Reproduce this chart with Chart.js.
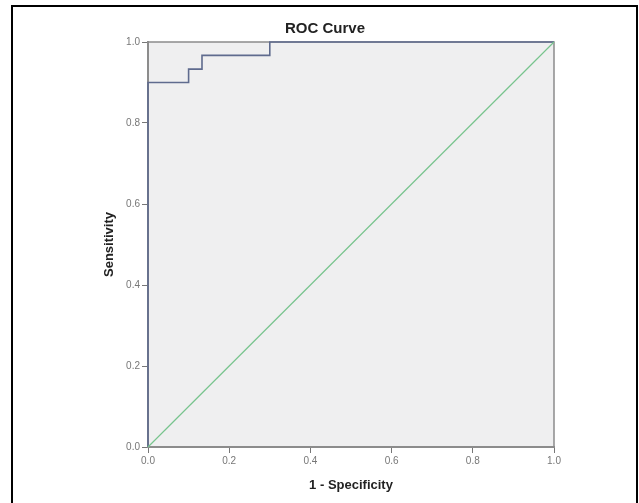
<!DOCTYPE html>
<html>
<head>
<meta charset="utf-8">
<script src="https://cdn.jsdelivr.net/npm/chart.js@4.4.0/dist/chart.umd.min.js"></script>
<style>
  html, body { margin: 0; padding: 0; background: #fff; overflow: hidden; }
  #frame {
    position: absolute; left: 11px; top: 5px;
    width: 623px; height: 520px;
    border: 2px solid #000;
  }
  #wrap { position: absolute; left: 0; top: 0; width: 639px; height: 503px; }
</style>
</head>
<body>
<div id="frame"></div>
<div id="wrap"><canvas id="roc"></canvas></div>
<script>
// ROC curve values (1 - specificity, sensitivity)
const rocX = [0, 0, 0.1, 0.1, 0.133, 0.133, 0.3, 0.3, 1.0];
const rocY = [0, 0.9, 0.9, 0.933, 0.933, 0.967, 0.967, 1.0, 1.0];
// reference diagonal
const refX = [0, 1];
const refY = [0, 1];
const tickStep = 0.2;

const toPoints = (xs, ys) => xs.map((x, i) => ({ x: x, y: ys[i] }));

// plot background + right/top frame, like SPSS output
const plotBox = {
  id: 'plotBox',
  beforeDraw(chart) {
    const { ctx, chartArea: a } = chart;
    ctx.save();
    ctx.fillStyle = '#efeff0';
    ctx.fillRect(a.left, a.top, a.right - a.left, a.bottom - a.top);
    ctx.restore();
  },
  beforeDatasetsDraw(chart) {
    const { ctx, chartArea: a } = chart;
    ctx.save();
    ctx.strokeStyle = '#8c8c8c';
    ctx.lineWidth = 1.5;
    ctx.beginPath();
    ctx.moveTo(a.left, a.top);
    ctx.lineTo(a.right, a.top);
    ctx.lineTo(a.right, a.bottom);
    ctx.stroke();
    ctx.restore();
  }
};

const tickFmt = v => Number(v).toFixed(1);

new Chart(document.getElementById('roc'), {
  type: 'scatter',
  data: {
    datasets: [
      {
        data: toPoints(refX, refY),
        showLine: true,
        borderColor: '#78c48e',
        borderWidth: 1.2,
        pointRadius: 0,
        clip: 3
      },
      {
        data: toPoints(rocX, rocY),
        showLine: true,
        borderColor: '#5f6b8e',
        borderWidth: 1.6,
        pointRadius: 0,
        clip: 3
      }
    ]
  },
  options: {
    responsive: true,
    maintainAspectRatio: false,
    animation: false,
    layout: { padding: { left: 96, right: 85, top: 0, bottom: 0 } },
    plugins: {
      legend: { display: false },
      tooltip: { enabled: false },
      title: {
        display: true,
        text: 'ROC Curve',
        color: '#222',
        font: { family: 'Arial, "Liberation Sans"', size: 15, weight: 'bold' },
        padding: { top: 20, bottom: 4 }
      }
    },
    scales: {
      x: {
        type: 'linear',
        min: 0,
        max: 1,
        afterFit: s => { s.height = 56; },
        border: { display: true, color: '#8c8c8c', width: 2 },
        grid: { drawOnChartArea: false, tickLength: 6, color: '#777' },
        ticks: {
          stepSize: tickStep,
          padding: 2,
          color: '#777',
          font: { family: 'Arial, "Liberation Sans"', size: 10 },
          callback: tickFmt
        },
        title: {
          display: true,
          text: '1 - Specificity',
          color: '#222',
          font: { family: 'Arial, "Liberation Sans"', size: 13, weight: 'bold' },
          padding: { top: 0, bottom: 10 }
        }
      },
      y: {
        type: 'linear',
        min: 0,
        max: 1,
        afterFit: s => { s.width = 52; },
        border: { display: true, color: '#8c8c8c', width: 2 },
        grid: { drawOnChartArea: false, tickLength: 6, color: '#777' },
        ticks: {
          stepSize: tickStep,
          padding: 2,
          color: '#777',
          font: { family: 'Arial, "Liberation Sans"', size: 10 },
          callback: tickFmt
        },
        title: {
          display: true,
          text: 'Sensitivity',
          color: '#222',
          font: { family: 'Arial, "Liberation Sans"', size: 13, weight: 'bold' },
          padding: { top: 6, bottom: 0 }
        }
      }
    }
  },
  plugins: [plotBox]
});
</script>
</body>
</html>
